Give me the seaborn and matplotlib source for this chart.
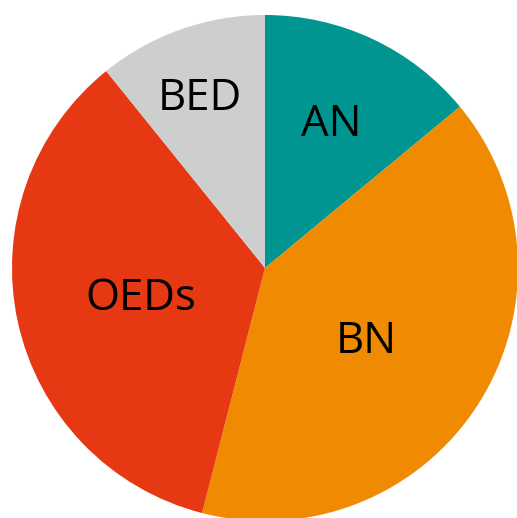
import matplotlib
matplotlib.use("Agg")
from matplotlib import pyplot as plt
import seaborn as sns

sns.set_style("white")
plt.rcParams['font.family'] = ['Open Sans', 'DejaVu Sans']

labels = ['AN', 'BN', 'OEDs', 'BED']
shares = [14, 40, 35.2, 10.8]
colors = ['#009591', '#F08A00', '#E63812', '#CDCFCE']
# label spots, in units of the radius
label_xy = [(0.26, 0.565), (0.40, -0.29), (-0.49, -0.12), (-0.257, 0.67)]

fig = plt.figure(figsize=(5.17, 5.18), dpi=100)
ax = fig.add_axes([12 / 517, -3 / 518, 506 / 517, 506 / 518])

wedges, texts = ax.pie(shares, labels=labels, colors=colors, startangle=90,
                       counterclock=False, radius=1,
                       wedgeprops=dict(linewidth=0),
                       textprops=dict(fontsize=31.5, color='black'))
for t, (x, y) in zip(texts, label_xy):
    t.set_position((x, y))
    t.set_ha('center')
    t.set_va('center')

ax.set_xlim(-1, 1)
ax.set_ylim(-1, 1)
ax.set_aspect('equal')
ax.axis('off')

fig.savefig('out.png', dpi=100)
